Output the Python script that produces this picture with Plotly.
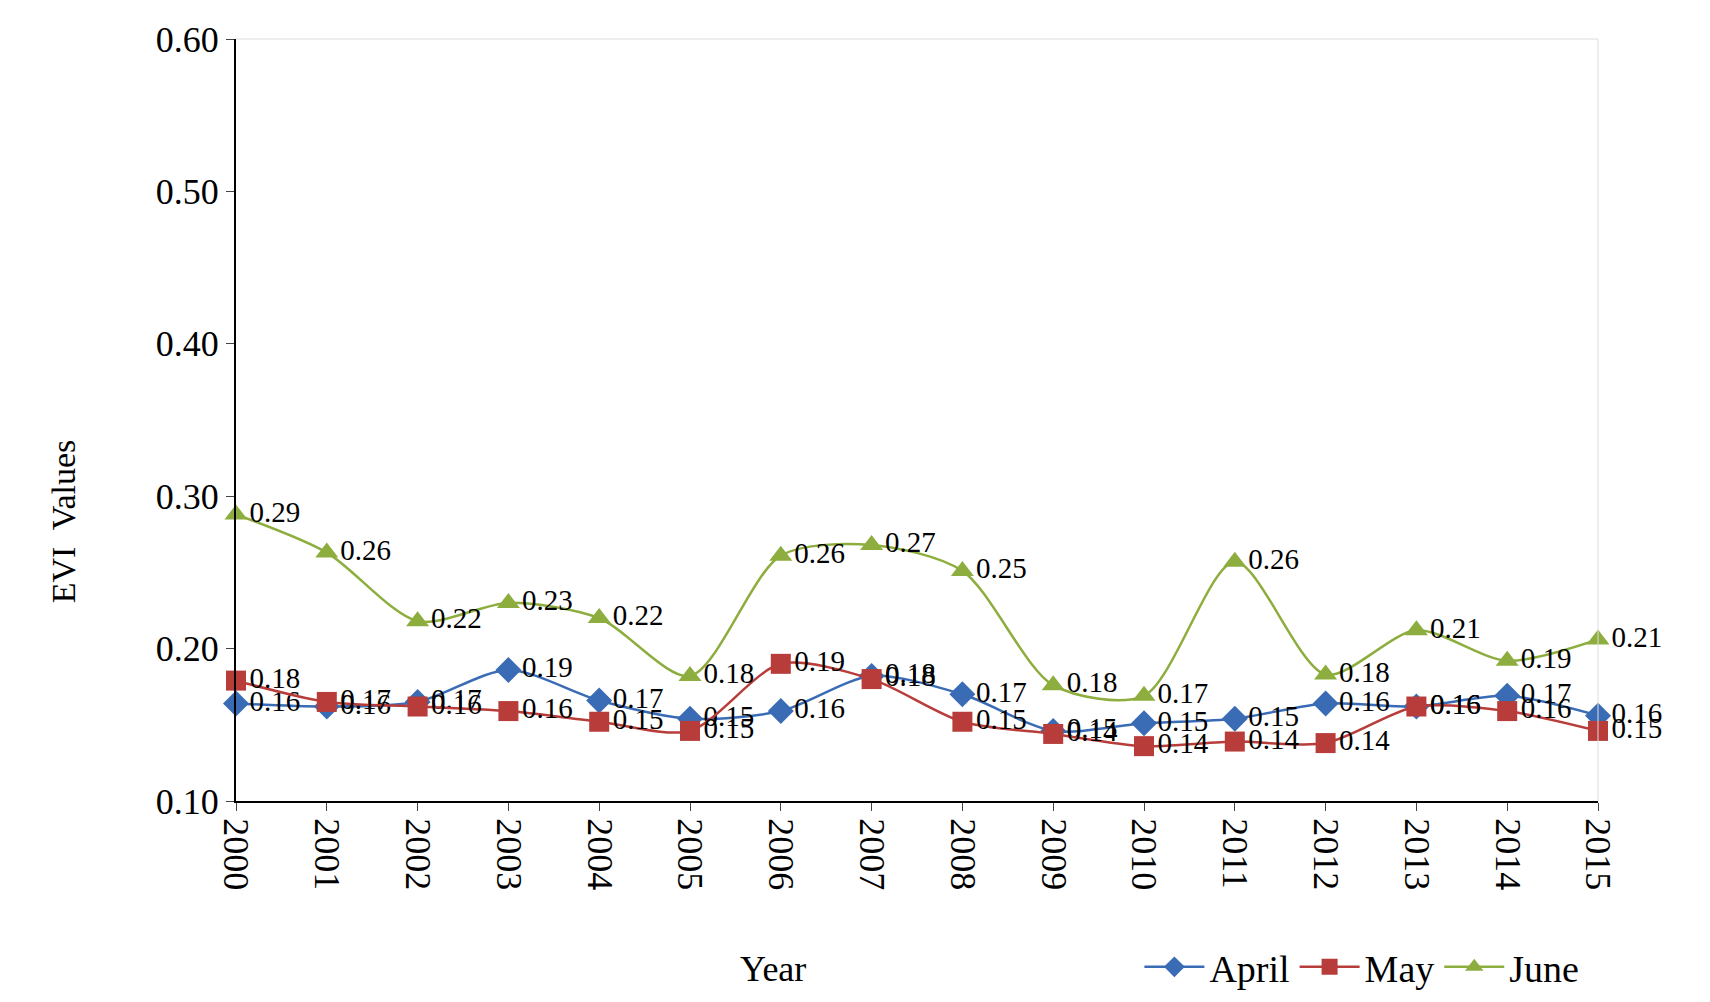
import plotly.graph_objects as go

years = [str(y) for y in range(2000, 2016)]
april = [0.164,0.162,0.165,0.186,0.166,0.154,0.159,0.182,0.170,0.146,0.151,0.154,0.164,0.162,0.169,0.156]
may = [0.179,0.165,0.162,0.159,0.152,0.146,0.190,0.180,0.152,0.144,0.136,0.139,0.138,0.162,0.159,0.146]
june = [0.288,0.263,0.218,0.230,0.220,0.182,0.261,0.268,0.251,0.176,0.169,0.257,0.183,0.212,0.192,0.206]

series = [("April", april, "#3A6CB5", "diamond"),
          ("May", may, "#B83C3A", "square"),
          ("June", june, "#8DAE3E", "triangle-up")]

fig = go.Figure()
for name, vals, col, sym in series:
    fig.add_trace(go.Scatter(
        x=years, y=vals, name=name, mode="lines+markers+text",
        line=dict(color=col, width=2.5, shape="spline", smoothing=0.8),
        marker=dict(symbol=sym, size=20, color=col),
        text=[f"{v:.2f}" for v in vals], textposition="middle right",
        textfont=dict(family="Liberation Serif", size=29, color="black"),
        cliponaxis=False))

fig.update_layout(
    width=1710, height=1002, paper_bgcolor="white", plot_bgcolor="white",
    margin=dict(l=228, r=120, t=27, b=209),
    font=dict(family="Liberation Serif", size=36, color="black"),
    showlegend=True,
    xaxis=dict(type="category", range=[0, 15], tickangle=90, ticks="outside",
               ticklen=8, showline=True, linecolor="black", linewidth=2,
               showgrid=False),
    yaxis=dict(range=[0.10, 0.60], dtick=0.10, tickformat=".2f", ticks="outside",
               ticklen=8, showline=True, linecolor="black", linewidth=2,
               showgrid=False),
    legend=dict(orientation="h", x=0.99, xanchor="right", y=-0.218, yanchor="middle",
                font=dict(size=38), itemwidth=60),
    annotations=[
        dict(text="Year", x=0.394, y=-0.22, xref="paper", yref="paper",
             showarrow=False, font=dict(size=36), xanchor="center", yanchor="middle"),
        dict(text="EVI  Values", x=-0.127, y=0.367, xref="paper", yref="paper",
             showarrow=False, textangle=-90, font=dict(size=34),
             xanchor="center", yanchor="middle")],
    shapes=[dict(type="line", xref="paper", yref="paper", x0=0, x1=1, y0=1, y1=1,
                 line=dict(color="#DDDDDD", width=1)),
            dict(type="line", xref="paper", yref="paper", x0=1, x1=1, y0=0, y1=1,
                 line=dict(color="#DDDDDD", width=1))])
fig.write_html("out.html")
